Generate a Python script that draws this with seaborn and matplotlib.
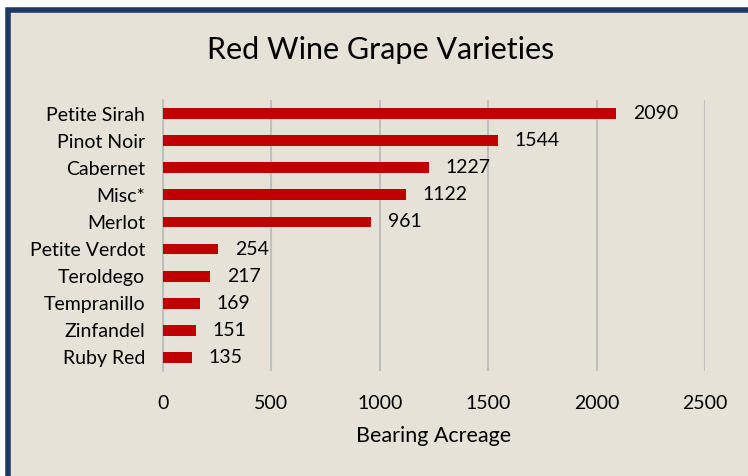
import pandas as pd
import matplotlib.pyplot as plt
import seaborn as sns
from matplotlib.patches import Rectangle

# dados
variedades = ['Petite Sirah', 'Pinot Noir', 'Cabernet', 'Misc*', 'Merlot',
              'Petite Verdot', 'Teroldego', 'Tempranillo', 'Zinfandel', 'Ruby Red']
acres = [2090, 1544, 1227, 1122, 961, 254, 217, 169, 151, 135]
x_ticks = [0, 500, 1000, 1500, 2000, 2500]

df = pd.DataFrame({'variedade': variedades, 'acres': acres})

sns.set_theme(style="white")
plt.rcParams['font.family'] = ['Lato', 'DejaVu Sans']
plt.rcParams['text.color'] = 'black'

fundo = '#E6E2D8'
fig = plt.figure(figsize=(7.48, 4.76), dpi=100)
fig.patch.set_facecolor('white')

# moldura azul escura do gráfico
W, H = 748, 476
moldura = Rectangle((7.5 / W, -0.05), 1.2, 1 - 10 / H + 0.05, transform=fig.transFigure,
                    facecolor=fundo, edgecolor='#1F3864', linewidth=4, zorder=-10)
fig.patches.append(moldura)

ax = fig.add_axes([163 / W, 1 - 371 / H, (705 - 163) / W, (371 - 100) / H])
ax.set_zorder(5)
ax.set_facecolor('none')

sns.barplot(data=df, x='acres', y='variedade', color='#C00000', width=0.4,
            saturation=1, linewidth=0, ax=ax, zorder=3)

ax.set_xlim(0, 2500)
ax.set_xticks(x_ticks)
ax.xaxis.grid(True, color='#BFBFBF', linewidth=1.5, zorder=0)
ax.axvline(0, color='#BFBFBF', linewidth=1.5, zorder=0, clip_on=False)
ax.yaxis.grid(False)
for s in ax.spines.values():
    s.set_visible(False)
ax.tick_params(axis='both', length=0, labelsize=14, colors='black')
ax.tick_params(axis='x', pad=17)
ax.tick_params(axis='y', pad=13)

for container in ax.containers:
    ax.bar_label(container, fmt='%d', padding=12, fontsize=14, color='black')

ax.set_ylabel('')
ax.set_xlabel('Bearing Acreage', fontsize=15.5, labelpad=10, color='black')
fig.text(381 / W, 1 - 50 / H, 'Red Wine Grape Varieties', fontsize=22,
         ha='center', va='center', color='black')

plt.savefig('out.png', dpi=100, facecolor=fig.get_facecolor())
